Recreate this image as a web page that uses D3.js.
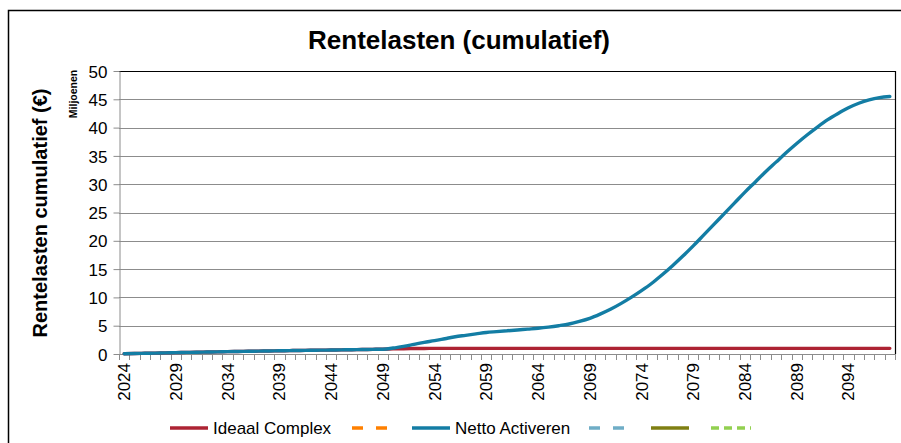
<!DOCTYPE html>
<html>
<head>
<meta charset="utf-8">
<script src="https://cdn.jsdelivr.net/npm/d3@7"></script>
<style>
    body { margin: 0; background: #fff; }
    svg text { font-family: "Liberation Sans", Arial, sans-serif; }
</style>
</head>
<body>
<script>
// data (Miljoenen euro, cumulatief)
var years = d3.range(2024, 2099);
var nettoActiveren = [
    0.05, 0.08, 0.12, 0.16, 0.20, 0.24, 0.28, 0.32, 0.35, 0.38,
    0.42, 0.45, 0.48, 0.51, 0.54, 0.57, 0.60, 0.63, 0.65, 0.68,
    0.70, 0.73, 0.76, 0.79, 0.82, 0.85, 1.05, 1.35, 1.70, 2.05,
    2.35, 2.70, 3.05, 3.30, 3.55, 3.80, 3.95, 4.10, 4.25, 4.40,
    4.55, 4.75, 5.00, 5.30, 5.75, 6.30, 7.05, 7.90, 8.90, 10.0,
    11.2, 12.5, 14.0, 15.6, 17.3, 19.1, 21.0, 22.9, 24.8, 26.7,
    28.6, 30.4, 32.2, 33.9, 35.6, 37.2, 38.7, 40.1, 41.4, 42.5,
    43.5, 44.3, 44.9, 45.3, 45.5
];
var ideaalComplex = nettoActiveren.slice(0, 26).concat([
    0.90, 0.94, 0.96, 0.98, 0.99
]);
while (ideaalComplex.length < years.length) { ideaalComplex.push(1.0); }

var yTicks = d3.range(0, 51, 5);
var xLabelYears = d3.range(2024, 2099, 5);

var legendItems = [
    {name: "Ideaal Complex", color: "#AD2333", dash: null},
    {name: "", color: "#FF8000", dash: "11,13"},
    {name: "Netto Activeren", color: "#137DA4", dash: null},
    {name: "", color: "#6FADC6", dash: "11,13"},
    {name: "", color: "#7F7F12", dash: null},
    {name: "", color: "#92D050", dash: "8,5"}
];

var width = 901, height = 443,
    plotLeft = 119, plotRight = 895,
    plotTop = 71, plotBottom = 354;

var svg = d3.select("body").append("svg")
    .attr("width", width)
    .attr("height", height);

// outer chart frame
svg.append("rect")
    .attr("x", 8.5).attr("y", 10.5)
    .attr("width", 1000).attr("height", 1000)
    .style("fill", "none")
    .style("stroke", "#000")
    .style("stroke-width", 1.5);

var x = d3.scaleBand()
    .domain(years)
    .range([plotLeft, plotRight])
    .padding(0);

var y = d3.scaleLinear()
    .domain([0, 50])
    .range([plotBottom, plotTop]);

// gridlines
svg.append("g")
   .selectAll("line")
   .data(yTicks.slice(1))
   .enter().append("line")
   .attr("x1", plotLeft).attr("x2", plotRight)
   .attr("y1", function(d) { return Math.round(y(d)) + 0.5; })
   .attr("y2", function(d) { return Math.round(y(d)) + 0.5; })
   .style("stroke", "#8c8c8c")
   .style("stroke-width", 1.2);

// plot border top/right
svg.append("path")
   .attr("d", "M" + plotLeft + "," + (plotTop + 0.5) + "H" + (plotRight + 0.5) + "V" + plotBottom)
   .style("fill", "none")
   .style("stroke", "#000")
   .style("stroke-width", 1.2);

// y axis
var yAxis = svg.append("g")
    .attr("transform", "translate(" + (plotLeft + 0.5) + ",0)")
    .call(d3.axisLeft(y).tickValues(yTicks).tickSize(6).tickPadding(6).tickSizeOuter(0));
yAxis.select(".domain").style("stroke", "#8c8c8c");
yAxis.selectAll(".tick line").style("stroke", "#8c8c8c");
yAxis.selectAll(".tick text")
     .style("font-size", "17px")
     .style("fill", "#000")
     .attr("dy", "0.36em");

// x axis line and ticks at category boundaries
svg.append("line")
   .attr("x1", plotLeft).attr("x2", plotRight)
   .attr("y1", plotBottom + 0.5).attr("y2", plotBottom + 0.5)
   .style("stroke", "#8c8c8c");

svg.append("g")
   .selectAll("line")
   .data(years.concat([2099]))
   .enter().append("line")
   .attr("x1", function(d, i) { return Math.round(plotLeft + i * x.step()) + 0.5; })
   .attr("x2", function(d, i) { return Math.round(plotLeft + i * x.step()) + 0.5; })
   .attr("y1", plotBottom)
   .attr("y2", plotBottom + 6)
   .style("stroke", "#8c8c8c");

svg.append("g")
   .selectAll("text")
   .data(xLabelYears)
   .enter().append("text")
   .attr("transform", function(d) {
       return "translate(" + (x(d) + x.bandwidth() / 2 + 6) + "," + (plotBottom + 9) + ") rotate(-90)";
   })
   .attr("text-anchor", "end")
   .style("font-size", "17px")
   .text(function(d) { return d; });

// lines
var line = d3.line()
    .x(function(d, i) { return x(years[i]) + x.bandwidth() / 2; })
    .y(function(d) { return y(d); })
    .curve(d3.curveMonotoneX);

svg.append("path")
   .datum(ideaalComplex)
   .attr("d", line)
   .style("fill", "none")
   .style("stroke", legendItems[0].color)
   .style("stroke-width", 3.4)
   .style("stroke-linecap", "round");

svg.append("path")
   .datum(nettoActiveren)
   .attr("d", line)
   .style("fill", "none")
   .style("stroke", legendItems[2].color)
   .style("stroke-width", 3.4)
   .style("stroke-linecap", "round");

// titles
svg.append("text")
   .attr("x", 459).attr("y", 49)
   .attr("text-anchor", "middle")
   .style("font-size", "26px")
   .style("font-weight", "bold")
   .text("Rentelasten (cumulatief)");

svg.append("text")
   .attr("transform", "translate(47,213) rotate(-90)")
   .attr("text-anchor", "middle")
   .style("font-size", "20px")
   .style("font-weight", "bold")
   .text("Rentelasten cumulatief (\u20AC)");

svg.append("text")
   .attr("transform", "translate(77,94) rotate(-90)")
   .attr("text-anchor", "middle")
   .style("font-size", "10.5px")
   .style("font-weight", "bold")
   .text("Miljoenen");

// legend
var legendX = [170, 352, 412, 589, 651, 711];
var legend = svg.append("g");
legendItems.forEach(function(d, i) {
    var g = legend.append("g")
        .attr("transform", "translate(" + legendX[i] + ",428)");
    g.append("line")
     .attr("x1", 0).attr("x2", i === 5 ? 40 : 38)
     .attr("y1", 0).attr("y2", 0)
     .style("stroke", d.color)
     .style("stroke-width", 3.5)
     .style("stroke-dasharray", d.dash);
    if (d.name) {
        g.append("text")
         .attr("x", 43).attr("y", 6)
         .style("font-size", "17px")
         .text(d.name);
    }
});
</script>
</body>
</html>
